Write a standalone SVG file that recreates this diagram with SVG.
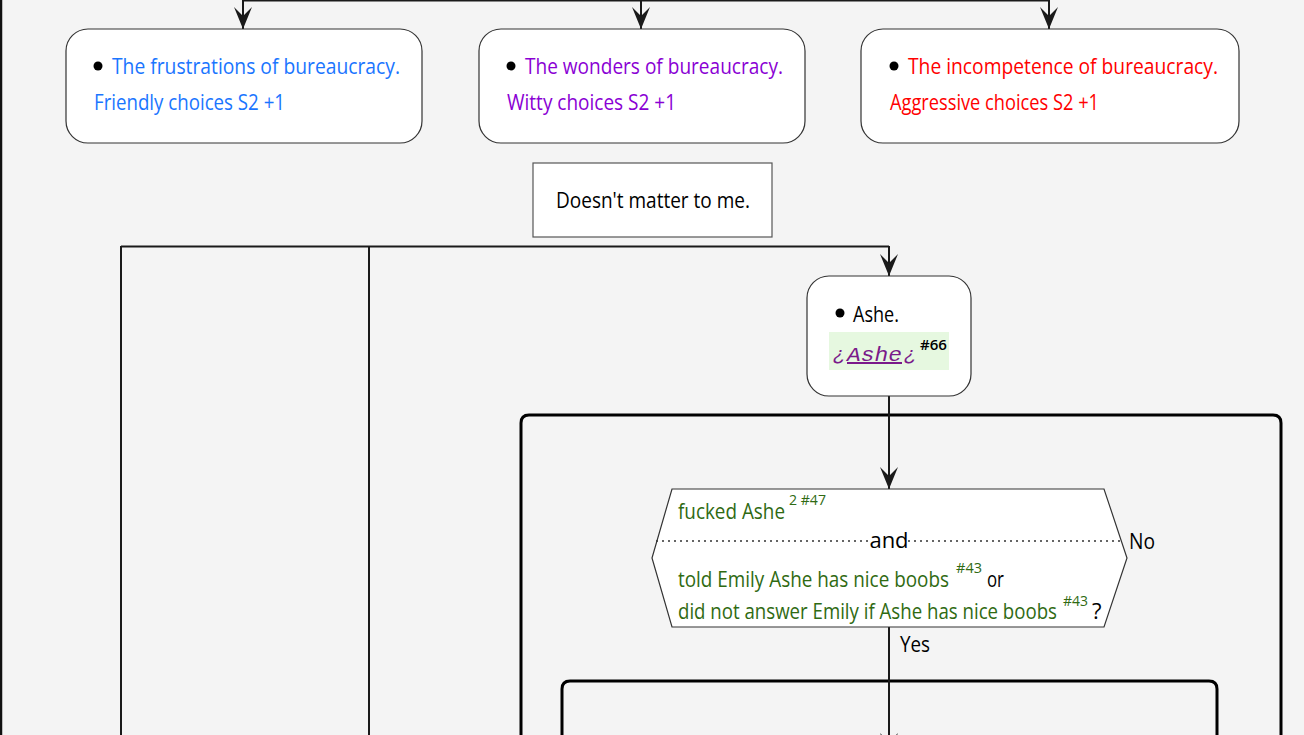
<svg xmlns="http://www.w3.org/2000/svg" width="1304" height="735" viewBox="0 0 1304 735">
<style>
.t{font-family:"Open Sans","Liberation Sans",sans-serif;font-size:22px}
.box{fill:#fff;stroke:#333;stroke-width:1.2}
.ln{fill:none;stroke:#1a1a1a;stroke-width:2}
.frame{fill:none;stroke:#000;stroke-width:3}
.blue{fill:#1a75ff}.purple{fill:#8a00d4}.red{fill:#ff0000}.green{fill:#2f6a12}
.sup{font-size:14px}
</style>
<defs>
<marker id="ar" viewBox="-24 -11 26 22" markerWidth="26" markerHeight="22" refX="0" refY="0" orient="auto" markerUnits="userSpaceOnUse">
<path d="M0,0 L-22,-9 L-13,0 L-22,9 Z" fill="#1a1a1a"/>
</marker>
</defs>
<rect width="1304" height="735" fill="#f4f4f4"/>
<line x1="1" y1="0" x2="1" y2="735" stroke="#111" stroke-width="2.5"/>
<path class="frame" d="M521,745 V423 Q521,415 529,415 H1273 Q1281,415 1281,423 V745"/>
<path class="frame" d="M562,745 V689 Q562,681 570,681 H1209 Q1217,681 1217,689 V745"/>
<g id="connectors">
<line class="ln" x1="243" y1="0.5" x2="1049" y2="0.5" stroke-width="1.5"/>
<line class="ln" x1="243" y1="0" x2="243" y2="29" marker-end="url(#ar)"/>
<line class="ln" x1="641" y1="0" x2="641" y2="29" marker-end="url(#ar)"/>
<line class="ln" x1="1049" y1="0" x2="1049" y2="29" marker-end="url(#ar)"/>
<line class="ln" x1="121" y1="246.5" x2="889" y2="246.5" stroke-width="2.5"/>
<line class="ln" x1="121" y1="246" x2="121" y2="735"/>
<line class="ln" x1="369" y1="246" x2="369" y2="735"/>
<line class="ln" x1="889" y1="246" x2="889" y2="276" marker-end="url(#ar)"/>
<line class="ln" x1="889" y1="396" x2="889" y2="489" marker-end="url(#ar)"/>
<line class="ln" x1="889" y1="627" x2="889" y2="755" marker-end="url(#ar)"/>
<text class="t" x="900" y="652" fill="#000" font-size="20" textLength="30" lengthAdjust="spacingAndGlyphs">Yes</text>
<text class="t" x="1129" y="549" fill="#000" font-size="20" textLength="26" lengthAdjust="spacingAndGlyphs">No</text>
</g>
<g id="n1">
<rect class="box" x="66" y="29" width="356" height="114" rx="22"/>
<circle cx="98" cy="66" r="4.5"/>
<text class="t blue" x="112" y="74" textLength="288" lengthAdjust="spacingAndGlyphs">The frustrations of bureaucracy.</text>
<text class="t blue" x="94" y="110" textLength="191" lengthAdjust="spacingAndGlyphs">Friendly choices S2 +1</text>
</g>
<g id="n2">
<rect class="box" x="479" y="29" width="326" height="114" rx="22"/>
<circle cx="511" cy="66" r="4.5"/>
<text class="t purple" x="525" y="74" textLength="258" lengthAdjust="spacingAndGlyphs">The wonders of bureaucracy.</text>
<text class="t purple" x="507" y="110" textLength="169" lengthAdjust="spacingAndGlyphs">Witty choices S2 +1</text>
</g>
<g id="n3">
<rect class="box" x="861" y="29" width="378" height="114" rx="22"/>
<circle cx="894" cy="66" r="4.5"/>
<text class="t red" x="908" y="74" textLength="310" lengthAdjust="spacingAndGlyphs">The incompetence of bureaucracy.</text>
<text class="t red" x="890" y="110" textLength="209" lengthAdjust="spacingAndGlyphs">Aggressive choices S2 +1</text>
</g>
<g id="n4">
<rect x="533" y="163" width="239" height="74" fill="#fff" stroke="#555" stroke-width="1.2"/>
<text class="t" x="556" y="208" fill="#000" textLength="194" lengthAdjust="spacingAndGlyphs">Doesn't matter to me.</text>
</g>
<g id="n5">
<rect class="box" x="807" y="276" width="164" height="120" rx="22"/>
<circle cx="840" cy="313" r="4.5"/>
<text class="t" x="853" y="322" fill="#000" textLength="46" lengthAdjust="spacingAndGlyphs">Ashe.</text>
<rect x="829" y="332" width="120" height="38" fill="#e6f8e0"/>
<text y="361" font-family="'Liberation Mono',monospace" font-style="italic" font-size="20" fill="#7a1a8a"><tspan x="833">¿</tspan><tspan x="847" text-decoration="underline" textLength="55" lengthAdjust="spacingAndGlyphs">Ashe</tspan><tspan x="904">¿</tspan><tspan x="920" dy="-11" font-family="'Open Sans',sans-serif" font-style="normal" font-size="14" font-weight="600" fill="#000" textLength="27" lengthAdjust="spacingAndGlyphs">#66</tspan></text>
</g>
<g id="n6">
<polygon points="672,489 1104,489 1127,558 1104,627 672,627 652,558" fill="#fff" stroke="#333" stroke-width="1.2"/>
<line x1="656" y1="541" x2="870" y2="541" stroke="#333" stroke-width="1.5" stroke-dasharray="2,4"/>
<line x1="908" y1="541" x2="1124" y2="541" stroke="#333" stroke-width="1.5" stroke-dasharray="2,4"/>
<text class="t" x="889" y="548" fill="#000" text-anchor="middle" font-size="20">and</text>
<text class="t green" y="519"><tspan x="678" textLength="107" lengthAdjust="spacingAndGlyphs">fucked Ashe</tspan><tspan class="sup" x="789" dy="-14" textLength="37" lengthAdjust="spacingAndGlyphs">2 #47</tspan></text>
<text class="t green" y="587"><tspan x="678" textLength="271" lengthAdjust="spacingAndGlyphs">told Emily Ashe has nice boobs</tspan><tspan class="sup" x="956" dy="-14" textLength="26" lengthAdjust="spacingAndGlyphs">#43</tspan><tspan x="987" dy="14" fill="#000" textLength="17" lengthAdjust="spacingAndGlyphs">or</tspan></text>
<text class="t green" y="619"><tspan x="678" textLength="379" lengthAdjust="spacingAndGlyphs">did not answer Emily if Ashe has nice boobs</tspan><tspan class="sup" x="1063" dy="-13" textLength="25" lengthAdjust="spacingAndGlyphs">#43</tspan><tspan x="1092" dy="13" fill="#000">?</tspan></text>
</g>
</svg>
